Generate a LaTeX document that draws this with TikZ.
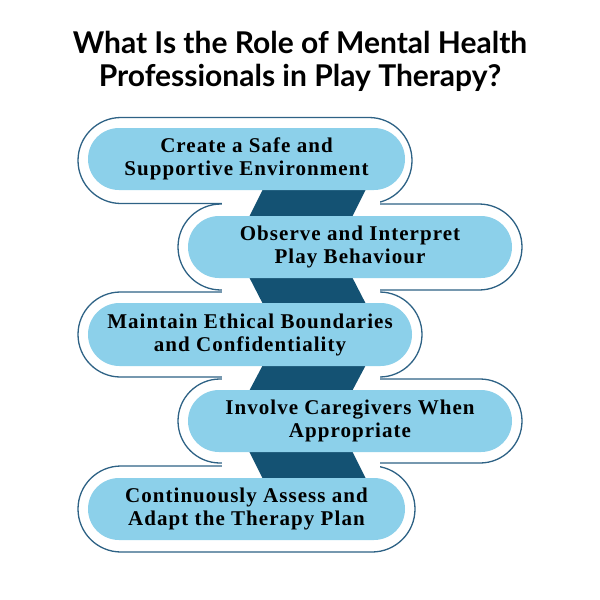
\documentclass[tikz,border=0pt]{standalone}
\usepackage{fontspec}
\setmainfont[LetterSpace=5]{Liberation Serif}
\newfontfamily\titlefont{Lato}
\usetikzlibrary{shapes.misc}
\definecolor{lb}{HTML}{8CD0EA}
\definecolor{db}{HTML}{145273}
\definecolor{ol}{HTML}{2E6285}
\tikzset{
 outerpill/.style={rounded rectangle, draw=ol, line width=1.3pt, fill=white, inner sep=0pt},
 innerpill/.style={rounded rectangle, fill=lb, inner sep=0pt, align=center, font=\fontsize{21}{23}\selectfont\bfseries},
 gapband/.style={fill=white},
 conn/.style={fill=db}
}
\begin{document}
\begin{tikzpicture}[x=1pt,y=-1pt]
\useasboundingbox (0,0) rectangle (600,600);
\node[font=\titlefont\bfseries\fontsize{30}{33}\selectfont, align=center] (title) at (300,61) {What Is the Role of Mental Health\\Professionals in Play Therapy?};
% outer outlines
\node[outerpill, minimum width=334pt, minimum height=86pt] (o1) at (245,160.5) {};
\node[outerpill, minimum width=344pt, minimum height=86pt] (o2) at (350,247) {};
\node[outerpill, minimum width=344pt, minimum height=85pt] (o3) at (250,334.5) {};
\node[outerpill, minimum width=344pt, minimum height=84pt] (o4) at (350,421) {};
\node[outerpill, minimum width=337pt, minimum height=86pt] (o5) at (246.5,509) {};
% gaps in outlines
\fill[gapband] (222,197) rectangle (380,211);
\fill[gapband] (222,284) rectangle (380,298);
\fill[gapband] (222,371) rectangle (380,385);
\fill[gapband] (222,459) rectangle (380,472);
% connectors
\fill[conn] (265,185) -- (368,185) -- (350,221) -- (247,221) -- cycle;
\fill[conn] (247,273) -- (350,273) -- (368,308) -- (265,308) -- cycle;
\fill[conn] (265,361) -- (368,361) -- (350,395) -- (247,395) -- cycle;
\fill[conn] (247,447) -- (350,447) -- (368,483) -- (265,483) -- cycle;
% inner pills
\node[innerpill, minimum width=317pt, minimum height=62pt] (p1) at (246.5,159) {Create a Safe and\\Supportive Environment};
\node[innerpill, minimum width=324pt, minimum height=62pt] (p2) at (350,247) {Observe and Interpret\\Play Behaviour};
\node[innerpill, minimum width=324pt, minimum height=63pt] (p3) at (250,334.5) {Maintain Ethical Boundaries\\and Confidentiality};
\node[innerpill, minimum width=324pt, minimum height=62pt] (p4) at (350,421) {Involve Caregivers When\\Appropriate};
\node[innerpill, minimum width=317pt, minimum height=62pt] (p5) at (246.5,509) {Continuously Assess and\\Adapt the Therapy Plan};
\end{tikzpicture}
\end{document}
